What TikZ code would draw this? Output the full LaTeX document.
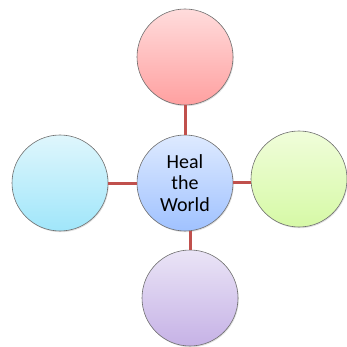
\documentclass[tikz,border=0pt]{standalone}
\usepackage{fontspec}
\setmainfont{Carlito}
\usetikzlibrary{shadows}
\definecolor{linkred}{HTML}{C0504D}
\definecolor{rimgray}{HTML}{6E6E6E}
\tikzset{
  bubble/.style={circle, draw=rimgray, line width=0.6pt, minimum size=96pt, inner sep=0pt,
    drop shadow={shadow xshift=0.8pt, shadow yshift=-1.2pt, opacity=0.25}},
  link/.style={draw=linkred, line width=3pt}
}
\begin{document}
\begin{tikzpicture}[x=1pt,y=-1pt]
\useasboundingbox (0,0) rectangle (347,347);
\node[bubble, top color={rgb,255:red,255;green,220;blue,220}, bottom color={rgb,255:red,255;green,160;blue,160}] (top) at (185,57) {};
\node[bubble, top color={rgb,255:red,223;green,246;blue,252}, bottom color={rgb,255:red,160;green,230;blue,250}] (left) at (60,183) {};
\node[bubble, top color={rgb,255:red,240;green,253;blue,218}, bottom color={rgb,255:red,214;green,249;blue,166}] (right) at (299,179) {};
\node[bubble, top color={rgb,255:red,234;green,228;blue,246}, bottom color={rgb,255:red,198;green,178;blue,230}] (bottom) at (190,298) {};
\node[bubble, top color={rgb,255:red,222;green,234;blue,255}, bottom color={rgb,255:red,160;green,194;blue,255}, align=center, font=\fontsize{20}{21.5}\selectfont] (center) at (185,183) {Heal\\the\\World};
\draw[link] (top.south) -- (center.north);
\draw[link] (left.east) -- (center.west);
\draw[link] (center.east |- 0,182) coordinate (ce) -- (right.west |- ce);
\draw[link] (center.south -| bottom.north) -- (bottom.north);
\end{tikzpicture}
\end{document}
